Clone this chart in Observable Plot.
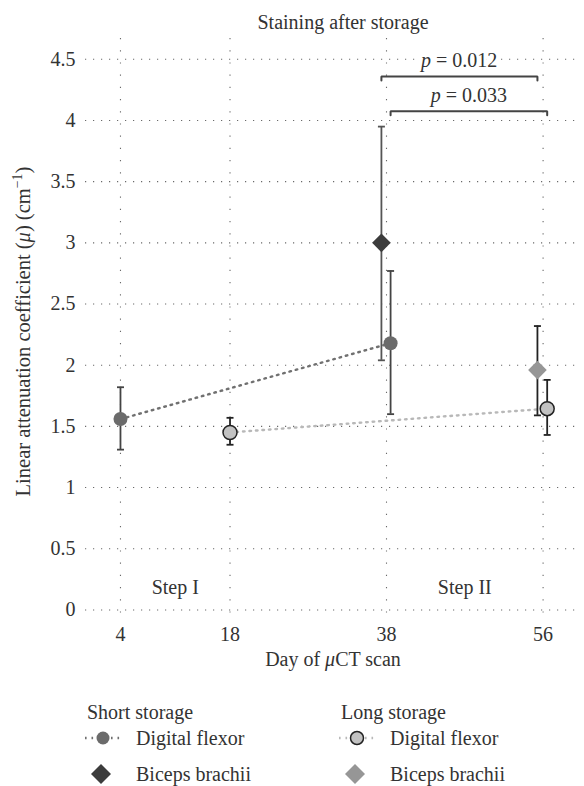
<!DOCTYPE html>
<html><head><meta charset="utf-8">
<script src="https://cdn.jsdelivr.net/npm/d3@7"></script>
<script src="https://cdn.jsdelivr.net/npm/@observablehq/plot@0.6"></script>
<style>
body{margin:0;background:#fff;}
#chart{width:584px;}
.lg{position:absolute;line-height:24px;white-space:nowrap;font-family:"Liberation Serif",serif;font-size:20px;color:#333;}
</style></head><body><div id="chart"></div><script>
// ---------- data ----------
const title = "Staining after storage";
const yLabel = "Linear attenuation coefficient (μ) (cm−1)";
const xLabel = "Day of μCT scan";
const scanDays = [4, 18, 38, 56];
const yTicks = [0, 0.5, 1, 1.5, 2, 2.5, 3, 3.5, 4, 4.5];

const groups = ["Short storage", "Long storage"];
const muscles = ["Digital flexor", "Biceps brachii"];

const shortFlexorDay = [4, 38];
const shortFlexorMean = [1.56, 2.18];
const shortFlexorLow = [1.31, 1.60];
const shortFlexorHigh = [1.82, 2.77];

const shortBicepsDay = [38];
const shortBicepsMean = [3.00];
const shortBicepsLow = [2.04];
const shortBicepsHigh = [3.95];

const longFlexorDay = [18, 56];
const longFlexorMean = [1.45, 1.645];
const longFlexorLow = [1.35, 1.43];
const longFlexorHigh = [1.57, 1.88];

const longBicepsDay = [56];
const longBicepsMean = [1.96];
const longBicepsLow = [1.59];
const longBicepsHigh = [2.32];

const stepNames = ["Step I", "Step II"];
const stepDays = [11, 47];
const stepLevel = [0.18, 0.18];

const bracketFrom = ["Short storage|Biceps brachii", "Short storage|Digital flexor"];
const bracketFromDay = [38, 38];
const bracketTo = ["Long storage|Biceps brachii", "Long storage|Digital flexor"];
const bracketToDay = [56, 56];
const bracketLevel = [4.36, 4.075];
const bracketLabel = ["p = 0.012", "p = 0.033"];

// ---------- build ----------
const series = [
  {group: groups[0], muscle: muscles[0], day: shortFlexorDay, mean: shortFlexorMean, low: shortFlexorLow, high: shortFlexorHigh},
  {group: groups[0], muscle: muscles[1], day: shortBicepsDay, mean: shortBicepsMean, low: shortBicepsLow, high: shortBicepsHigh},
  {group: groups[1], muscle: muscles[0], day: longFlexorDay, mean: longFlexorMean, low: longFlexorLow, high: longFlexorHigh},
  {group: groups[1], muscle: muscles[1], day: longBicepsDay, mean: longBicepsMean, low: longBicepsLow, high: longBicepsHigh}
];
const look = {
  "Short storage|Digital flexor": {fill: "#6b6b6b", stroke: "none", bar: "#444", line: "#707070", symbol: "circle", r: 7},
  "Short storage|Biceps brachii": {fill: "#3c3c3c", stroke: "none", bar: "#555", symbol: "diamond2", r: 8.4},
  "Long storage|Digital flexor": {fill: "#c2c2c2", stroke: "#222", bar: "#222", line: "#b8b8b8", symbol: "circle", r: 7},
  "Long storage|Biceps brachii": {fill: "#969696", stroke: "none", bar: "#222", symbol: "diamond2", r: 8.4}
};
const rows = series.flatMap(s => s.day.map((d, i) => ({
  key: s.group + "|" + s.muscle, group: s.group, muscle: s.muscle,
  day: d, mean: s.mean[i], low: s.low[i], high: s.high[i]
})));
const perDay = d3.rollup(rows, v => v.length, d => d.day);
const shift = {"Biceps brachii": -0.65, "Digital flexor": 0.47};
rows.forEach(r => r.xpos = r.day + (perDay.get(r.day) > 1 ? shift[r.muscle] : 0));

const W = 584, H = 690;
const mL = 85, mR = 4, mT = 38, mB = 72;
const yDomain = [-0.07, 4.67];
const pxPerUnit = (H - mB - mT) / (yDomain[1] - yDomain[0]);
const tickLen = 4 / pxPerUnit;

const brackets = bracketLabel.map((label, i) => {
  const a = rows.find(r => r.key === bracketFrom[i] && r.day === bracketFromDay[i]);
  const b = rows.find(r => r.key === bracketTo[i] && r.day === bracketToDay[i]);
  return {id: i, label, level: bracketLevel[i], xa: a.xpos, xb: b.xpos};
});
const bracketPts = brackets.flatMap(b => [
  {id: b.id, x: b.xa, y: b.level - tickLen},
  {id: b.id, x: b.xa, y: b.level},
  {id: b.id, x: b.xb, y: b.level},
  {id: b.id, x: b.xb, y: b.level - tickLen}
]);

const cap = {draw(ctx, size) { const r = Math.sqrt(size / Math.PI); ctx.moveTo(-r, 0); ctx.lineTo(r, 0); }};
const dotted = "1.6,4.9";

const marks = [
  Plot.gridY(yTicks, {stroke: "#6a6a6a", strokeOpacity: 1, strokeWidth: 1.1, strokeDasharray: "1.2,6.8"}),
  Plot.gridX(scanDays, {stroke: "#6a6a6a", strokeOpacity: 1, strokeWidth: 1.1, strokeDasharray: "1.2,11"}),
  Plot.axisY({ticks: yTicks, tickSize: 0, tickPadding: 10, tickFormat: d => String(d), label: null}),
  Plot.axisX({ticks: scanDays, tickSize: 0, tickPadding: 8, tickFormat: d => String(d), label: null})
];
for (const s of series) {
  const key = s.group + "|" + s.muscle;
  const L = look[key];
  const data = rows.filter(r => r.key === key);
  if (L.line) marks.push(Plot.line(data, {x: "xpos", y: "mean", stroke: L.line, strokeWidth: 2.4, strokeDasharray: dotted}));
}
for (const s of series) {
  const key = s.group + "|" + s.muscle;
  const L = look[key];
  const data = rows.filter(r => r.key === key);
  marks.push(
    Plot.ruleX(data, {x: "xpos", y1: "low", y2: "high", stroke: L.bar, strokeWidth: 1.8}),
    Plot.dot(data, {x: "xpos", y: "low", symbol: cap, r: 3.5, stroke: L.bar, strokeWidth: 1.8, fill: "none"}),
    Plot.dot(data, {x: "xpos", y: "high", symbol: cap, r: 3.5, stroke: L.bar, strokeWidth: 1.8, fill: "none"})
  );
}
for (const s of series) {
  const key = s.group + "|" + s.muscle;
  const L = look[key];
  const data = rows.filter(r => r.key === key);
  marks.push(Plot.dot(data, {x: "xpos", y: "mean", symbol: L.symbol, r: L.r, fill: L.fill, stroke: L.stroke, strokeWidth: 1.5}));
}
marks.push(
  Plot.line(bracketPts, {x: "x", y: "y", z: "id", stroke: "#444", strokeWidth: 2, strokeLinejoin: "miter"}),
  Plot.text(brackets, {x: d => (d.xa + d.xb) / 2, y: "level", text: "label", dy: -16, fill: "#333", stroke: "white", strokeWidth: 6, paintOrder: "stroke"}),
  Plot.text(stepNames, {x: (d, i) => stepDays[i], y: (d, i) => stepLevel[i], text: d => d, fill: "#333"}),
  Plot.text([title], {frameAnchor: "top", text: d => d, dx: 10, dy: -24, fill: "#333"}),
  Plot.text([xLabel], {frameAnchor: "bottom", text: d => d, dy: 47, fill: "#333"}),
  Plot.text([yLabel], {frameAnchor: "left", textAnchor: "middle", text: d => d, rotate: -90, dx: -62, dy: 3, fontSize: 20.5, fill: "#333"})
);

const svg = Plot.plot({
  width: W, height: H,
  marginLeft: mL, marginRight: mR, marginTop: mT, marginBottom: mB,
  x: {type: "linear", domain: [-0.47, 38, 60.3], range: [85, 386, 580]},
  y: {domain: yDomain},
  style: {fontFamily: "'Liberation Serif', serif", fontSize: "20px", color: "#333", background: "white", overflow: "visible"},
  marks
});

// rich text: italic μ and p, superscript −1
svg.querySelectorAll("text").forEach(t => {
  const s = t.textContent;
  if (!/μ|^p =|−1/.test(s)) return;
  const parts = s.split(/(μ|^p(?= =)|−1)/).filter(p => p !== "");
  t.textContent = "";
  let raised = false;
  for (const p of parts) {
    const ts = document.createElementNS("http://www.w3.org/2000/svg", "tspan");
    ts.textContent = p;
    if (p === "μ" || p === "p") ts.setAttribute("font-style", "italic");
    if (p === "−1") { ts.setAttribute("font-size", "0.68em"); ts.setAttribute("dy", "-0.55em"); raised = true; }
    else if (raised) { ts.setAttribute("dy", "0.374em"); raised = false; }
    t.appendChild(ts);
  }
});
document.getElementById("chart").appendChild(svg);

// ---------- legend ----------
const legend = document.createElement("div");
legend.style.cssText = "position:relative;width:584px;height:96px;";
const colLeft = [87, 341];
const rowY = [48, 84];
groups.forEach((g, gi) => {
  const x0 = colLeft[gi];
  const head = document.createElement("div");
  head.className = "lg";
  head.textContent = g;
  head.style.left = x0 + "px"; head.style.top = (22 - 12) + "px";
  legend.appendChild(head);
  muscles.forEach((m, mi) => {
    const L = look[g + "|" + m];
    const cy = rowY[mi];
    const sym = document.createElementNS("http://www.w3.org/2000/svg", "svg");
    sym.setAttribute("width", 40); sym.setAttribute("height", 26);
    sym.style.cssText = `position:absolute;left:${x0 - 3}px;top:${cy - 13}px;`;
    let inner = "";
    if (L.line) inner += `<line x1="1" x2="36" y1="13" y2="13" stroke="${L.line}" stroke-width="2.4" stroke-dasharray="${dotted}"/>`;
    if (L.symbol === "circle") inner += `<circle cx="19" cy="13" r="${L.r - 0.5}" fill="${L.fill}" stroke="${L.stroke}" stroke-width="1.5"/>`;
    else { const h = 10; inner += `<path d="M17,${13 - h}L${17 + h},13L17,${13 + h}L${17 - h},13Z" fill="${L.fill}"/>`; }
    sym.innerHTML = inner;
    legend.appendChild(sym);
    const lab = document.createElement("div");
    lab.className = "lg";
    lab.textContent = m;
    lab.style.left = (x0 + 49) + "px"; lab.style.top = (cy - 12) + "px";
    legend.appendChild(lab);
  });
});
document.getElementById("chart").appendChild(legend);
</script></body></html>
